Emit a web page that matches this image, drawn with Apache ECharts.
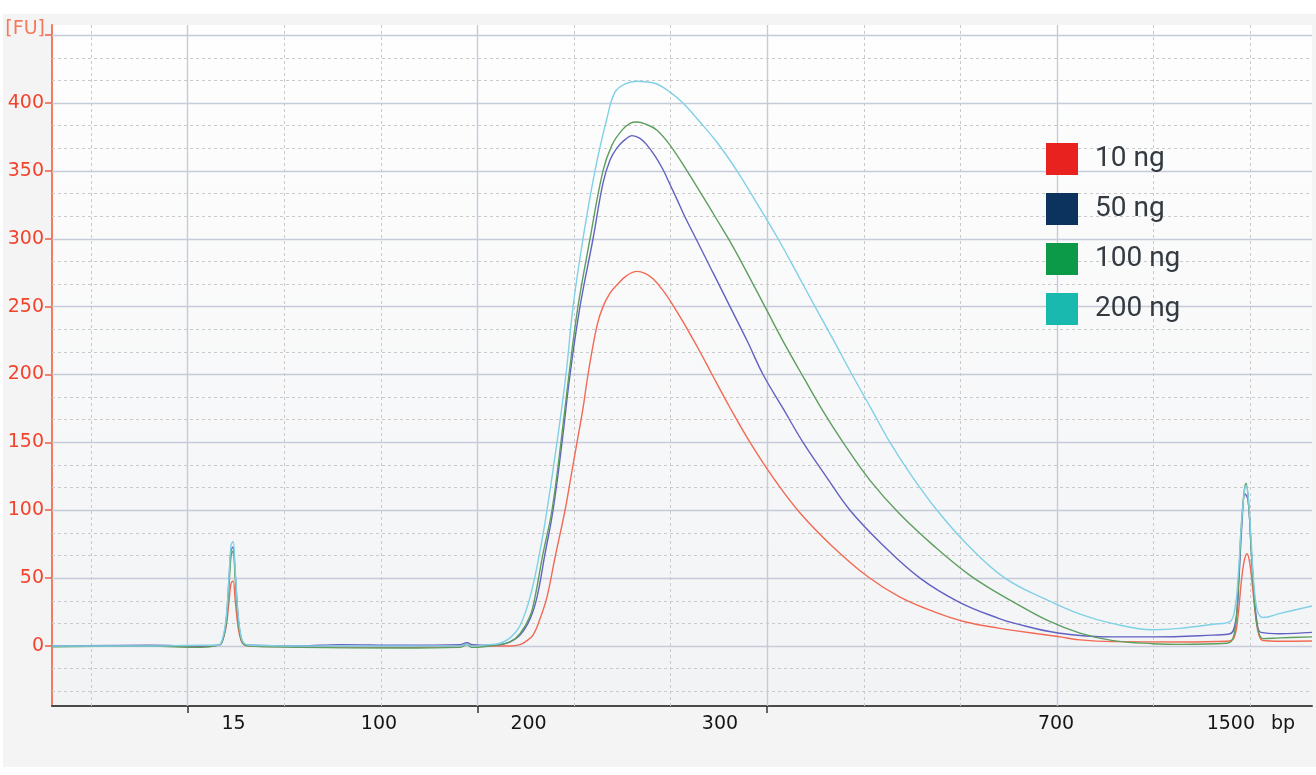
<!DOCTYPE html>
<html><head><meta charset="utf-8">
<script src="https://cdn.jsdelivr.net/npm/echarts@6/dist/echarts.min.js"></script>
<style>
html,body{margin:0;padding:0;background:#ffffff;}
#wrap{position:relative;width:1316px;height:775px;overflow:hidden;}
#panel{position:absolute;left:3px;top:14px;width:1313px;height:753px;background:#f4f4f4;}
#chart{position:absolute;left:0;top:0;width:1316px;height:775px;}
</style></head><body>
<div id="wrap"><div id="panel"></div><div id="chart"></div></div>
<script>
// Electropherogram: x = migration time (s), y = fluorescence [FU]
const seriesNames = ['10 ng', '50 ng', '100 ng', '200 ng'];

const s10 = [[15.96,0],[26.11,0],[31.28,-0.5],[33.15,0.5],[33.56,3],[33.98,14],[34.29,33],[34.49,46],[34.70,48],[34.91,35],[35.22,14],[35.53,4],[35.84,1],[36.46,0],[41.64,-0.5],[51.99,-1],[58.20,0],[58.92,2],[59.44,0.5],[61.30,0],[63.38,0],[64.41,1],[65.13,4],[65.76,8],[66.48,20],[67.20,36],[68.03,65],[69.07,100],[69.69,125],[70.31,150],[70.93,175],[71.45,200],[72.38,236],[73.00,250],[73.73,260],[74.45,266],[75.49,273],[76.52,276],[77.35,274.5],[78.18,270.5],[79.21,262],[80.25,251],[81.28,239],[82.32,226],[83.25,214],[84.29,200],[86.15,175.5],[88.22,150],[90.81,122],[93.40,98],[96.81,73],[100.43,51],[103.75,36],[107.37,25],[110.68,17.5],[114.10,13],[115.45,11.5],[120.10,7],[122.38,4.5],[125.80,3.2],[132.73,3],[137.60,3.5],[138.32,6],[138.74,22],[139.05,45],[139.36,62],[139.67,68],[139.98,60],[140.29,40],[140.60,20],[140.91,8],[141.33,4],[143.09,3.5],[146.40,3.7]];

const s50 = [[15.96,0],[26.11,0.5],[31.28,0],[33.15,0.5],[33.56,3],[33.98,18],[34.29,50],[34.49,70],[34.70,73],[34.91,55],[35.22,22],[35.53,6],[35.84,1.5],[36.46,0.5],[41.64,0],[45.78,1],[51.99,0.5],[58.20,1],[58.92,2.5],[59.44,1],[61.30,0.5],[62.34,1],[63.38,3],[64.41,8],[65.45,20],[66.17,36],[67.00,68],[67.83,100],[68.76,150],[69.59,200],[70.62,250],[71.97,300],[73.00,341],[73.73,358],[74.45,367],[75.28,373],[76.00,376],[76.83,374],[77.56,369],[78.38,361],[79.21,351],[79.94,340],[80.66,329],[81.49,316],[82.63,300],[84.39,275],[86.15,250],[87.91,225],[89.57,200],[91.64,175],[93.71,150],[96.09,125],[98.57,100],[101.88,75],[105.82,50],[109.96,32],[114.10,20],[115.45,17],[120.10,9.6],[125.80,6.7],[129.94,6.7],[136.15,8],[137.91,9],[138.53,20],[138.84,50],[139.15,90],[139.46,112],[139.77,108],[140.08,75],[140.39,40],[140.70,18],[141.12,10],[143.09,9],[146.40,10]];

const s100 = [[15.96,-0.5],[26.11,0],[31.28,-1],[33.15,0.5],[33.56,3],[33.98,16],[34.29,45],[34.49,66],[34.70,70],[34.91,52],[35.22,20],[35.53,5],[35.84,1],[36.46,0],[41.64,-1],[51.99,-1.5],[58.20,-1],[58.92,1],[59.44,-1],[61.30,0],[62.34,1],[63.38,3],[64.41,9],[65.45,22],[65.96,36],[66.79,68],[67.72,100],[68.65,150],[69.48,200],[70.41,250],[71.66,300],[73.00,350],[73.93,369],[74.97,380],[75.80,385],[76.52,386],[77.56,384],[78.59,380],[79.94,369],[81.70,350],[83.35,331],[84.80,314],[86.15,298],[87.91,275],[89.98,247],[91.84,222],[93.91,196],[95.78,173],[97.85,150],[100.64,122],[103.75,97],[107.37,73],[110.99,52],[114.10,38],[115.45,32.5],[118.96,19],[122.38,9.5],[125.80,4],[129.94,1.7],[132.73,1.2],[137.60,2],[138.32,8],[138.74,40],[139.05,85],[139.36,113],[139.57,120],[139.88,100],[140.19,60],[140.50,28],[140.81,12],[141.33,5.4],[143.09,6],[146.40,6.7]];

const s200 = [[15.96,0],[26.11,0],[31.28,0.5],[33.15,0.5],[33.56,4],[33.98,20],[34.29,52],[34.49,74],[34.70,77],[34.91,58],[35.22,24],[35.53,7],[35.84,2],[36.46,0.5],[41.64,0],[51.99,0],[58.20,0],[58.92,1.5],[59.44,0],[61.30,1],[62.34,2],[63.38,6],[64.41,15],[65.45,36],[66.48,70],[67.20,100],[68.24,150],[69.17,200],[69.90,250],[70.93,300],[72.17,350],[73.42,389],[74.24,408],[75.28,414],[76.52,416],[77.56,415.5],[78.59,414],[79.94,408],[81.28,400],[83.04,386],[84.91,370],[86.87,350],[88.94,326],[91.12,300],[92.98,276],[94.95,250],[96.81,226],[98.78,200],[100.75,175],[102.71,150],[104.99,125],[107.58,100],[110.68,75],[114.62,50],[118.96,34],[122.38,23.5],[125.80,16.5],[129.94,12],[132.73,13],[136.15,16],[137.91,18],[138.43,28],[138.74,50],[139.05,85],[139.36,112],[139.57,118],[139.77,112],[140.08,80],[140.39,45],[140.70,27],[141.02,22],[141.33,21],[143.09,24],[146.40,29.5]];

// axis ticks / labels
const yLabelValues = [0, 50, 100, 150, 200, 250, 300, 350, 400];
const yTickValues = [0, 50, 100, 150, 200, 250, 300, 350, 400, 450];
const xTickValues = [30, 60, 90];
const bpLabels = ['15', '100', '200', '300', '700', '1500', 'bp'];
const bpLabelPos = [34.75, 49.81, 65.29, 85.11, 119.9, 138.0, 143.4];
// grid lines
const yMajor = [0, 50, 100, 150, 200, 250, 300, 350, 400, 450];
const yMinor = [-33.33, -16.67, 16.67, 33.33, 66.67, 83.33, 116.67, 133.33, 166.67, 183.33, 216.67, 233.33, 266.67, 283.33, 316.67, 333.33, 366.67, 383.33, 416.67, 433.33];
const xMajor = [30, 60, 90, 120];
const xMinor = [20, 40, 50, 70, 80, 100, 110, 130, 140];

const lineColors = ['#f26a54', '#6262c2', '#5e9e5e', '#80d0e6'];
const legendColors = ['#e8231f', '#0b335e', '#0c9a48', '#19b9b0'];

const chart = echarts.init(document.getElementById('chart'), null, {renderer: 'canvas'});

const solidStyle = {color: '#c6cbd9', width: 1.4, type: 'solid'};
const dashStyle = {color: '#cacaca', width: 1, type: [3, 3]};
const gridLines = []
  .concat(yMinor.map(v => ({yAxis: v, lineStyle: dashStyle})))
  .concat(xMinor.map(v => ({xAxis: v, lineStyle: dashStyle})))
  .concat(yMajor.map(v => ({yAxis: v, lineStyle: solidStyle})))
  .concat(xMajor.map(v => ({xAxis: v, lineStyle: solidStyle})));

const dataSets = [s10, s50, s100, s200];
const axisFont = 'DejaVu Sans';

const option = {
  animation: false,
  backgroundColor: 'transparent',
  grid: {
    left: 52, right: 4, top: 25, bottom: 69,
    outerBoundsMode: 'none',
    show: true,
    borderWidth: 0,
    backgroundColor: new echarts.graphic.LinearGradient(0, 0, 0, 1, [
      {offset: 0, color: '#fefefe'}, {offset: 1, color: '#f2f3f5'}
    ])
  },
  legend: {
    orient: 'vertical',
    left: 1046, top: 143,
    padding: 0,
    itemWidth: 32, itemHeight: 32, itemGap: 18,
    icon: 'rect',
    selectedMode: false,
    itemStyle: {borderWidth: 0},
    textStyle: {fontFamily: 'Roboto', fontSize: 28, color: '#333a40', padding: [0, 0, 0, 12]},
    data: seriesNames.map((n, i) => ({name: n, itemStyle: {color: legendColors[i], borderWidth: 0}}))
  },
  xAxis: {
    type: 'value',
    min: 15.96, max: 146.4,
    axisLine: {show: true, onZero: false, lineStyle: {color: '#4a4a4a', width: 2}},
    axisTick: {show: true, customValues: xTickValues, length: 7, lineStyle: {color: '#333', width: 1.5}},
    axisLabel: {
      show: true, customValues: bpLabelPos, margin: 9,
      fontFamily: axisFont, fontSize: 19, color: '#151515',
      formatter: function (v) {
        for (let i = 0; i < bpLabelPos.length; i++) {
          if (Math.abs(bpLabelPos[i] - v) < 0.01) return bpLabels[i];
        }
        return '';
      }
    },
    splitLine: {show: false}
  },
  yAxis: {
    type: 'value',
    min: -44.2, max: 457.46,
    name: '[FU]',
    nameLocation: 'end',
    nameGap: -4,
    nameMoveOverlap: false,
    nameTextStyle: {fontFamily: axisFont, fontSize: 19, color: '#f47a5e', align: 'right', verticalAlign: 'middle', padding: [0, 7, 0, 0]},
    axisLine: {show: true, onZero: false, lineStyle: {color: '#f47c5e', width: 2}},
    axisTick: {show: true, customValues: yTickValues, length: 7, lineStyle: {color: '#f25a40', width: 1.5}},
    axisLabel: {show: true, customValues: yLabelValues, margin: 8, fontFamily: axisFont, fontSize: 19, color: '#f2432d'},
    splitLine: {show: false}
  },
  series: [{
    type: 'line', name: '__grid', data: [], z: 1, silent: true, symbol: 'none',
    markLine: {silent: true, symbol: ['none', 'none'], z: 1, animation: false, label: {show: false}, emphasis: {disabled: true}, data: gridLines}
  }].concat(dataSets.map((d, i) => ({
    type: 'line', name: seriesNames[i], data: d, z: 3 + i,
    showSymbol: false, symbol: 'none', smooth: 0.4,
    lineStyle: {color: lineColors[i], width: 1.4},
    itemStyle: {color: lineColors[i]},
    emphasis: {disabled: true}
  })))
};
chart.setOption(option);
</script>
</body></html>
